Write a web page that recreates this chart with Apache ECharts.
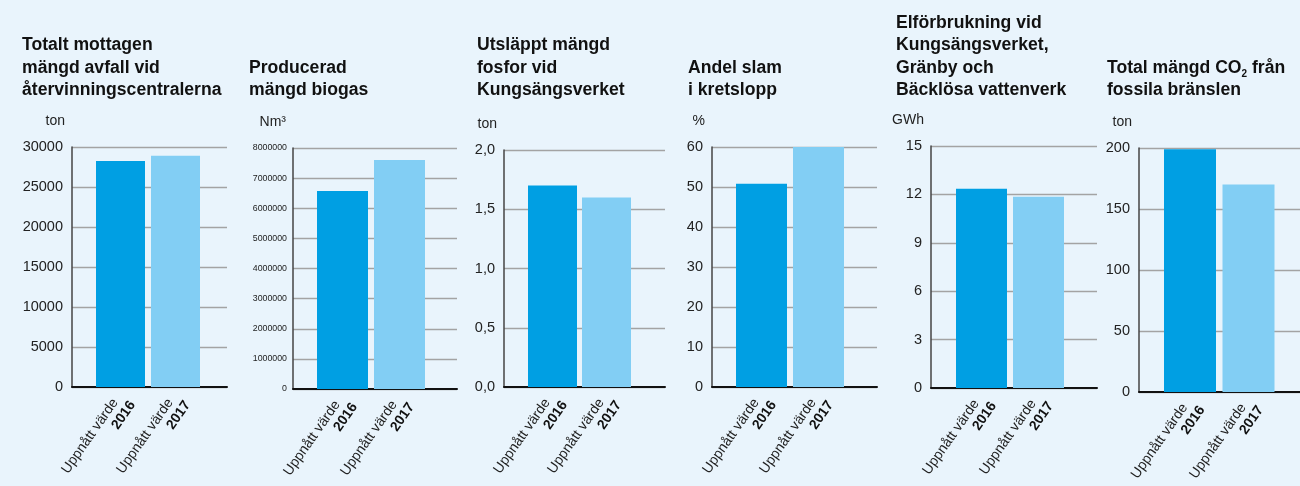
<!DOCTYPE html>
<html>
<head>
<meta charset="utf-8">
<script src="https://cdn.jsdelivr.net/npm/echarts@6/dist/echarts.min.js"></script>
<style>
  html, body { margin: 0; padding: 0; background: #e9f4fc; }
  #chart { width: 1300px; height: 486px; }
</style>
</head>
<body>
<div id="chart"></div>
<script>
  // values
  const years = ['2016', '2017']
  const avfall = [28250, 28900]        // ton
  const biogas = [6570000, 7600000]    // Nm3
  const fosfor = [1.70, 1.60]          // ton
  const slam = [50.8, 60]              // %
  const el = [12.35, 11.85]            // GWh
  const co2 = [199, 170]               // ton

  const colors = ['#009fe3', '#82cef4']
  const font = "'Liberation Sans', Arial, sans-serif"

  // layout per panel: L/R = grid edges, c1 = centre of first bar, s = bar spacing
  const panels = [
    {title: '{t|Totalt mottagen}\n{t|mängd avfall vid}\n{t|återvinningscentralerna}', tx: 22, unit: 'ton', data: avfall,
     max: 30000, interval: 5000, L: 72, R: 227, top: 147, bot: 387, c1: 120.5, s: 55, bw: 49, fs: 14.5},
    {title: '{t|Producerad}\n{t|mängd biogas}', tx: 249, unit: 'Nm³', data: biogas,
     max: 8000000, interval: 1000000, L: 293, R: 457, top: 148, bot: 389, c1: 342.5, s: 57, bw: 51, fs: 8.8},
    {title: '{t|Utsläppt mängd}\n{t|fosfor vid}\n{t|Kungsängsverket}', tx: 477, unit: 'ton', data: fosfor,
     max: 2, interval: 0.5, L: 504, R: 665, top: 150, bot: 387, c1: 552.5, s: 54, bw: 49, fs: 14.5,
     fmt: v => v.toFixed(1).replace('.', ',')},
    {title: '{t|Andel slam}\n{t|i kretslopp}', tx: 688, unit: '%', data: slam,
     max: 60, interval: 10, L: 712, R: 877, top: 147, bot: 387, c1: 761.5, s: 57, bw: 51, fs: 14.5},
    {title: '{t|Elförbrukning vid}\n{t|Kungsängsverket,}\n{t|Gränby och}\n{t|Bäcklösa vattenverk}', tx: 896, unit: 'GWh', data: el,
     max: 15, interval: 3, L: 931, R: 1097, top: 146, bot: 388, c1: 981.5, s: 57, bw: 51, fs: 14.5},
    {title: '{t|Total mängd CO}{s|2}{t| från}\n{t|fossila bränslen}', tx: 1107, unit: 'ton', data: co2,
     max: 200, interval: 50, L: 1139, R: 1300, top: 148, bot: 392, c1: 1190, s: 58.5, bw: 52, fs: 14.5}
  ]

  const chart = echarts.init(document.getElementById('chart'))

  const option = {
    backgroundColor: '#e9f4fc',
    animation: false,
    textStyle: {fontFamily: font},
    title: [], grid: [], xAxis: [], yAxis: [], series: []
  }

  panels.forEach((p, i) => {
    option.title.push({
      text: p.title,
      left: p.tx,
      bottom: 389,
      padding: 0,
      textStyle: {
        rich: {
          t: {fontSize: 17.6, fontWeight: 'bold', color: '#111', fontFamily: font, lineHeight: 22.5},
          s: {fontSize: 10, fontWeight: 'bold', color: '#111', fontFamily: font, lineHeight: 11, verticalAlign: 'bottom'}
        }
      }
    })
    option.grid.push({
      left: p.L, width: p.R - p.L, top: p.top, height: p.bot - p.top,
      containLabel: false, outerBoundsMode: 'none'
    })
    option.xAxis.push({
      gridIndex: i,
      type: 'value',
      min: 1 - (p.c1 - p.L) / p.s,
      max: 2 + (p.R - p.c1 - p.s) / p.s,
      axisLine: {show: true, lineStyle: {color: '#111', width: 2}},
      axisTick: {show: false},
      splitLine: {show: false},
      axisLabel: {
        customValues: [1, 2],
        rotate: 55,
        margin: 7,
        padding: [14, 0, 0, 0],
        formatter: v => '{n|Uppnått värde}\n{b|' + years[Math.round(v) - 1] + '}',
        rich: {
          n: {fontSize: 14, color: '#222', fontFamily: font, lineHeight: 15.5, padding: [0, 8, 0, 0]},
          b: {fontSize: 14, fontWeight: 'bold', color: '#111', fontFamily: font, lineHeight: 15.5}
        }
      }
    })
    option.yAxis.push({
      gridIndex: i,
      type: 'value',
      min: 0,
      max: p.max,
      interval: p.interval,
      name: p.unit,
      nameLocation: 'end',
      nameGap: 19,
      nameTextStyle: {fontSize: 14, color: '#222', align: 'right', padding: [0, 7, 0, 0]},
      axisLine: {show: true, lineStyle: {color: '#444', width: 1.5}},
      axisTick: {show: false},
      splitLine: {lineStyle: {color: '#a3a3a3', width: 1.3}},
      axisLabel: {
        fontSize: p.fs, color: '#222', margin: p.fs < 10 ? 6 : 9,
        formatter: p.fmt || (v => String(v))
      }
    })
    option.series.push({
      type: 'bar',
      xAxisIndex: i,
      yAxisIndex: i,
      barWidth: p.bw,
      data: p.data.map((v, k) => ({value: [k + 1, v], itemStyle: {color: colors[k]}}))
    })
  })

  chart.setOption(option)
</script>
</body>
</html>
